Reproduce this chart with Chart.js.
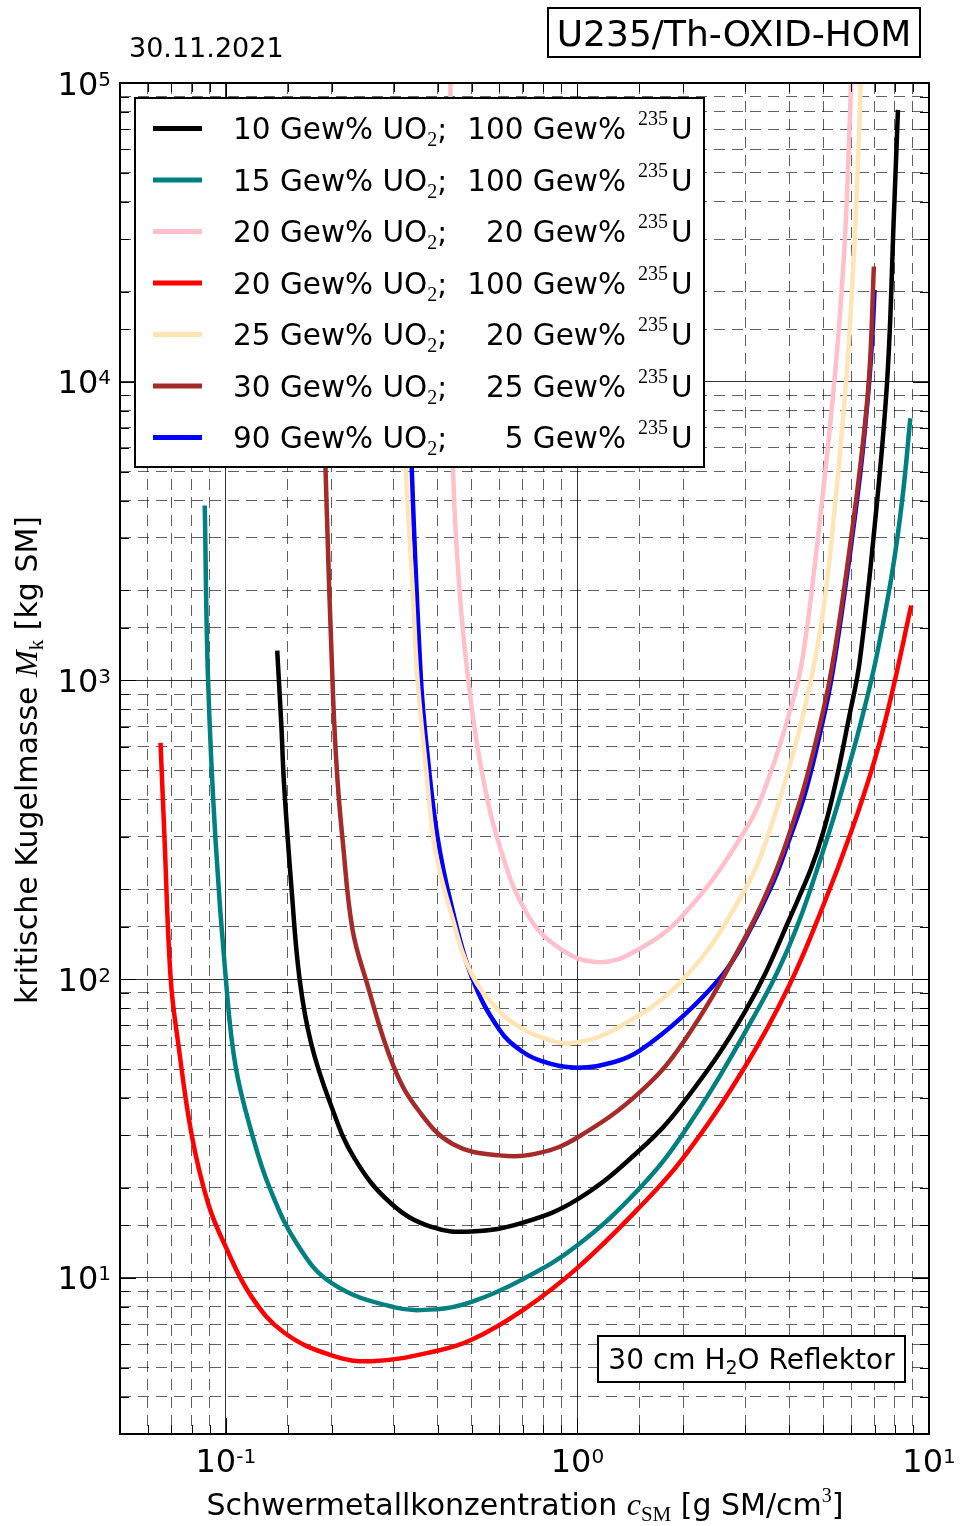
<!DOCTYPE html>
<html>
<head>
<meta charset="utf-8">
<script src="https://cdn.jsdelivr.net/npm/chart.js@4"></script>
<style>
  html, body { margin: 0; padding: 0; background: #fff; }
  canvas { display: block; }
</style>
</head>
<body>
<canvas id="chart" width="965" height="1526"></canvas>
<script>
// values: x = c_SM [g SM/cm3], y = M_k [kg SM]
const xBlack = [0.140, 0.1439, 0.1464, 0.1538, 0.1621, 0.1748, 0.198, 0.2318, 0.2957, 0.3845, 0.5, 0.7, 1.0, 1.5, 2.0, 3.0, 4.0, 5.0, 6.07, 6.36, 6.95, 7.6, 7.95, 8.16];
const yBlack = [1259, 700, 450, 200, 100, 61, 38.5, 25.2, 17.7, 14.8, 14.3, 15.3, 18.3, 26.7, 38.5, 78, 158, 310, 863, 1170, 2985, 10000, 36700, 81300];

const xTeal = [0.0871, 0.089, 0.0935, 0.1, 0.1066, 0.119, 0.133, 0.16, 0.2, 0.3, 0.4, 0.5, 0.7, 1.0, 1.5, 2.0, 3.0, 4.0, 5.0, 6.0, 6.7, 7.1, 7.84, 8.4, 8.85];
const yTeal = [3850, 1007, 290, 100, 51, 30, 20.1, 12.9, 9.6, 7.98, 7.85, 8.3, 9.9, 12.85, 19.9, 30.5, 66.5, 129, 269, 546, 897, 1210, 2260, 4060, 7550];

const xPink = [0.435, 0.443, 0.462, 0.489, 0.527, 0.595, 0.72, 0.897, 1.146, 1.46, 2.0, 3.0, 3.52, 4.11, 4.36, 4.76, 5.38, 5.74, 5.93, 6.0];
const yPink = [100000, 5210, 2013, 1007, 545, 290, 165, 126, 114, 124, 164, 315, 480, 863, 1170, 2576, 10000, 27300, 66300, 100000];

const xRed = [0.0652, 0.0669, 0.0697, 0.0732, 0.0800, 0.0891, 0.0993, 0.1179, 0.1464, 0.2, 0.261, 0.4, 0.5, 0.7, 1.0, 1.5, 2.0, 3.0, 4.0, 5.0, 6.0, 7.0, 7.8, 8.9];
const yRed = [618, 299, 100, 61, 30, 17.7, 12.9, 8.7, 6.56, 5.5, 5.26, 5.7, 6.2, 7.8, 10.8, 17.2, 25.2, 51, 95, 176, 310, 540, 880, 1780];

const xOrange = [0.322, 0.325, 0.340, 0.351, 0.3705, 0.394, 0.438, 0.5, 0.6, 0.7, 0.8, 0.95, 1.28, 2.0, 3.0, 3.6, 4.3, 4.87, 5.26, 5.81, 6.12, 6.32, 6.39];
const yOrange = [10000, 5210, 2013, 1007, 516, 272, 165, 104, 78, 68, 63.5, 61, 68, 100, 200, 340, 700, 1400, 2800, 10000, 27300, 66300, 100000];

const xBrown = [0.19, 0.192, 0.202, 0.208, 0.215, 0.229, 0.25, 0.3, 0.356, 0.443, 0.6, 0.78, 1.0, 1.5, 2.0, 3.0, 3.6, 4.0, 4.45, 5.0, 5.3, 5.75, 6.38, 6.76, 6.97];
const yBrown = [10000, 5210, 863, 456, 290, 147.6, 100, 51, 35.9, 28, 25.7, 26.2, 29.5, 41.7, 61.5, 138, 218, 305, 455, 790, 1110, 2070, 5250, 10500, 24300];

const xBlue = [0.335, 0.338, 0.3589, 0.3733, 0.4, 0.4384, 0.5, 0.6, 0.7, 0.803, 1.0, 1.28, 1.5, 2.0, 2.59, 3.0, 3.6, 4.0, 4.47, 5.0, 5.3, 5.75, 6.38, 6.76, 6.92, 7.0];
const yBlue = [10000, 5080, 1007, 588, 299, 176, 102, 67.7, 57, 52.9, 50.5, 52.9, 57.5, 75.3, 103.5, 136, 210, 292, 430, 740, 1040, 1960, 4970, 10000, 15200, 20300];

// legend parts: UO2 share and 235U enrichment
const uo2Share = ['10', '15', '20', '20', '25', '30', '90'];
const u235Share = ['100', '100', '20', '100', '20', '25', '5'];
const seriesColors = ['#000000', '#008080', '#ffc0cb', '#ff0000', '#ffe4b5', '#a52a2a', '#0000ff'];

// decade tick labels (exponents)
const xTickExp = [-1, 0, 1];
const yTickExp = [1, 2, 3, 4, 5];

const SANS = '"DejaVu Sans", sans-serif';
const SERIF = '"Liberation Serif", "DejaVu Serif", serif';

function pts(xs, ys) {
  return xs.map((x, i) => ({ x: x, y: ys[i] }));
}

const seriesData = [
  pts(xBlack, yBlack), pts(xTeal, yTeal), pts(xPink, yPink), pts(xRed, yRed),
  pts(xOrange, yOrange), pts(xBrown, yBrown), pts(xBlue, yBlue)
];

function isDecade(v) {
  const l = Math.log10(v);
  return Math.abs(l - Math.round(l)) < 1e-6;
}

// draws a run of text pieces (for sub/superscripts)
function drawParts(ctx, parts, x, y, align) {
  let w = 0;
  parts.forEach(p => { ctx.font = p.font; p.w = ctx.measureText(p.t).width; w += p.w; });
  let cx = align === 'center' ? x - w / 2 : align === 'right' ? x - w : x;
  parts.forEach(p => {
    ctx.font = p.font;
    ctx.fillText(p.t, cx, y + (p.dy || 0));
    cx += p.w;
  });
  return w;
}

const overlay = {
  id: 'overlay',
  afterDatasetsDraw(chart) {
    const ctx = chart.ctx;
    const a = chart.chartArea;
    const xs = chart.scales.x, ys = chart.scales.y;
    ctx.save();

    // inner tick marks on all four sides
    ctx.strokeStyle = '#000';
    ctx.lineWidth = 1;
    ctx.beginPath();
    xs.ticks.forEach(t => {
      const px = Math.round(xs.getPixelForValue(t.value)) + 0.5;
      const len = isDecade(t.value) ? 16 : 9;
      ctx.moveTo(px, a.bottom); ctx.lineTo(px, a.bottom - len);
      ctx.moveTo(px, a.top); ctx.lineTo(px, a.top + len);
    });
    ys.ticks.forEach(t => {
      const py = Math.round(ys.getPixelForValue(t.value)) + 0.5;
      const len = isDecade(t.value) ? 16 : 9;
      ctx.moveTo(a.left, py); ctx.lineTo(a.left + len, py);
      ctx.moveTo(a.right, py); ctx.lineTo(a.right - len, py);
    });
    ctx.stroke();

    // frame
    ctx.lineWidth = 2;
    ctx.strokeRect(a.left, a.top, a.right - a.left, a.bottom - a.top);

    // legend
    const lx = 135, ly = 98, lw = 569, lh = 369;
    ctx.fillStyle = '#fff';
    ctx.fillRect(lx, ly, lw, lh);
    ctx.strokeStyle = '#000';
    ctx.lineWidth = 2;
    ctx.strokeRect(lx, ly, lw, lh);
    ctx.textAlign = 'left';
    ctx.textBaseline = 'alphabetic';
    uo2Share.forEach((s, i) => {
      const cy = 128.5 + i * 51.5;
      ctx.strokeStyle = seriesColors[i];
      ctx.lineWidth = 5;
      ctx.beginPath();
      ctx.moveTo(153, cy); ctx.lineTo(202, cy);
      ctx.stroke();
      ctx.fillStyle = '#000';
      const base = cy + 10.5;
      drawParts(ctx, [
        { t: s + ' Gew% UO', font: '29.5px ' + SANS },
        { t: '2', font: '20px ' + SERIF, dy: 7 },
        { t: ';', font: '29.5px ' + SANS }
      ], 233, base, 'left');
      drawParts(ctx, [{ t: u235Share[i] + ' Gew%', font: '29.5px ' + SANS }], 626, base, 'right');
      drawParts(ctx, [{ t: '235', font: '20px ' + SERIF }], 638, base - 14, 'left');
      drawParts(ctx, [{ t: 'U', font: '29.5px ' + SANS }], 671, base, 'left');
    });

    // reflector note
    ctx.fillStyle = '#fff';
    ctx.fillRect(598, 1336, 307, 46);
    ctx.strokeStyle = '#000';
    ctx.lineWidth = 2;
    ctx.strokeRect(598, 1336, 307, 46);
    ctx.fillStyle = '#000';
    drawParts(ctx, [
      { t: '30 cm H', font: '28px ' + SANS },
      { t: '2', font: '19px ' + SANS, dy: 5 },
      { t: 'O Reflektor', font: '28px ' + SANS }
    ], 751.5, 1369, 'center');
    ctx.restore();
  },
  afterDraw(chart) {
    const ctx = chart.ctx;
    const a = chart.chartArea;
    const xs = chart.scales.x, ys = chart.scales.y;
    ctx.save();
    ctx.fillStyle = '#000';
    ctx.textAlign = 'left';
    ctx.textBaseline = 'alphabetic';

    // decade tick labels
    xTickExp.forEach(e => {
      const px = xs.getPixelForValue(Math.pow(10, e));
      drawParts(ctx, [
        { t: '10', font: '32px ' + SANS },
        { t: String(e), font: '20px ' + SANS, dy: -9 }
      ], px, a.bottom + 38, 'center');
    });
    yTickExp.forEach(e => {
      const py = ys.getPixelForValue(Math.pow(10, e));
      drawParts(ctx, [
        { t: '10', font: '32px ' + SANS },
        { t: String(e), font: '20px ' + SANS, dy: -9 }
      ], a.left - 9, py + 11.5, 'right');
    });

    // x axis title
    drawParts(ctx, [
      { t: 'Schwermetallkonzentration ', font: '30px ' + SANS },
      { t: 'c', font: 'italic 32px ' + SERIF },
      { t: 'SM', font: '21px ' + SERIF, dy: 6 },
      { t: ' [g SM/cm', font: '30px ' + SANS },
      { t: '3', font: '20px ' + SERIF, dy: -13 },
      { t: ']', font: '30px ' + SANS }
    ], 525, 1515, 'center');

    // y axis title
    ctx.save();
    ctx.translate(37, 760);
    ctx.rotate(-Math.PI / 2);
    drawParts(ctx, [
      { t: 'kritische Kugelmasse ', font: '30px ' + SANS },
      { t: 'M', font: 'italic 32px ' + SERIF },
      { t: 'k', font: '21px ' + SERIF, dy: 6 },
      { t: ' [kg SM]', font: '30px ' + SANS }
    ], 0, 0, 'center');
    ctx.restore();

    // date and title box
    ctx.font = '27px ' + SANS;
    ctx.fillText('30.11.2021', 129, 57);
    ctx.lineWidth = 2;
    ctx.strokeStyle = '#000';
    ctx.strokeRect(548, 8, 372, 49);
    drawParts(ctx, [{ t: 'U235/Th-OXID-HOM', font: '36px ' + SANS }], 734, 45.5, 'center');
    ctx.restore();
  }
};

const gridColor = c => isDecade(c.tick.value) ? 'rgba(0,0,0,0.8)' : 'rgba(0,0,0,0.62)';
const gridDash = c => isDecade(c.tick.value) ? [] : [11, 7];

new Chart(document.getElementById('chart').getContext('2d'), {
  type: 'scatter',
  data: {
    datasets: seriesData.map((d, i) => ({
      label: uo2Share[i] + ' Gew% UO2; ' + u235Share[i] + ' Gew% 235U',
      data: d,
      showLine: true,
      borderColor: seriesColors[i],
      backgroundColor: seriesColors[i],
      borderWidth: 4.5,
      borderJoinStyle: 'round',
      pointRadius: 0,
      pointHoverRadius: 0,
      fill: false,
      tension: 0.4
    }))
  },
  options: {
    responsive: false,
    animation: false,
    devicePixelRatio: 1,
    layout: { padding: { left: 120, top: 83, right: 36, bottom: 92 } },
    plugins: { legend: { display: false }, tooltip: { enabled: false } },
    scales: {
      x: {
        type: 'logarithmic',
        min: 0.05,
        max: 10,
        ticks: { display: false },
        grid: { color: gridColor, lineWidth: 1, drawTicks: false },
        border: { display: false, dash: gridDash }
      },
      y: {
        type: 'logarithmic',
        min: 3,
        max: 100000,
        ticks: { display: false },
        grid: { color: gridColor, lineWidth: 1, drawTicks: false },
        border: { display: false, dash: gridDash }
      }
    }
  },
  plugins: [overlay]
});
</script>
</body>
</html>
